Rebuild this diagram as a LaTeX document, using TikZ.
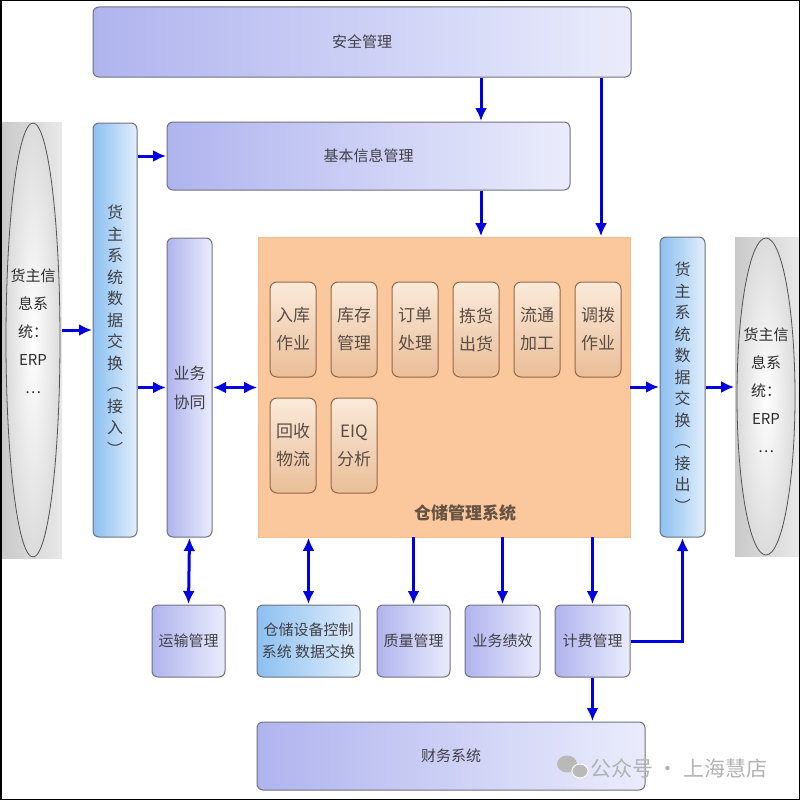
\documentclass[tikz,border=0pt]{standalone}
\usepackage{fontspec}
\setmainfont{Noto Sans CJK SC}
\usepackage{tikz}
\usetikzlibrary{arrows.meta, positioning, calc, shapes.geometric}

\definecolor{lav}{RGB}{176,180,238}
\definecolor{lavlt}{RGB}{234,236,252}
\definecolor{skyb}{RGB}{140,192,240}
\definecolor{skylt}{RGB}{226,238,252}
\definecolor{peach}{RGB}{250,200,156}
\definecolor{tandk}{RGB}{234,190,152}
\definecolor{tanlt}{RGB}{250,234,218}
\definecolor{tanbd}{RGB}{150,104,70}
\definecolor{arrblue}{RGB}{0,0,225}
\definecolor{txt}{RGB}{64,64,70}
\definecolor{bd}{RGB}{112,112,128}

\begin{document}
\begin{tikzpicture}[x=1pt,y=-1pt,>={Latex[length=13pt,width=12pt]},shorten >=0.5pt,semithick]
  \tikzstyle{box}=[draw=bd,line width=1pt,rounded corners=6pt,left color=lav,right color=lavlt,text=txt,align=center,inner sep=0pt,font=\fontsize{15}{20}\selectfont]
  \tikzstyle{bar}=[box,left color=skyb,right color=skylt,font=\fontsize{16}{21.5}\selectfont]
  \tikzstyle{sub}=[draw=tanbd,line width=1pt,rounded corners=7pt,top color=tanlt,bottom color=tandk,text=txt!80!brown,align=center,inner sep=0pt,minimum width=46pt,minimum height=95pt,font=\fontsize{17}{28}\selectfont]
  \tikzstyle{low}=[box,minimum height=72pt]
  \tikzstyle{host}=[rectangle,inner sep=0pt,left color=gray!42,right color=gray!18]
  \tikzstyle{erp}=[ellipse,draw=gray!65!black,line width=0.8pt,inner color=white,outer color=gray!28,text=gray!35!black,align=center,inner sep=0pt,font=\fontsize{15}{28}\selectfont]
  \tikzstyle{arr}=[->,draw=arrblue,line width=3pt]
  \tikzstyle{both}=[<->,draw=arrblue,line width=3pt,shorten <=0.5pt]

  \useasboundingbox (0,0) rectangle (800,800);

  % top rows
  \node[box,minimum width=538pt,minimum height=70pt] (anquan) at (362,42) {安全管理};
  \node[box,minimum width=403pt,minimum height=68pt] (jiben) at (368.5,156) {基本信息管理};

  % owner systems
  \node[host,minimum width=60pt,minimum height=436pt] (lhost) at (32,340) {};
  \node[erp,minimum width=54pt,minimum height=434pt] (lerp) at (33,340) {};
  \node[text=gray!35!black,align=center,font=\fontsize{15}{28}\selectfont] (ltext) at (33,331) {货主信\\息系\\统：\\ERP\\…};
  \node[host,minimum width=64pt,minimum height=319pt] (rhost) at (767,396.5) {};
  \node[erp,minimum width=58pt,minimum height=317pt] (rerp) at (766,396.5) {};
  \node[text=gray!35!black,align=center,font=\fontsize{15}{28}\selectfont] (rtext) at (766,390) {货主信\\息系\\统：\\ERP\\…};

  % exchange bars
  \node[bar,minimum width=44pt,minimum height=414pt] (jieru) at (115,330) {货\\主\\系\\统\\数\\据\\交\\换\\︵\\接\\入\\︶};
  \node[bar,minimum width=45pt,minimum height=300pt] (jiechu) at (682.5,387) {货\\主\\系\\统\\数\\据\\交\\换\\︵\\接\\出\\︶};
  \node[box,minimum width=45pt,minimum height=299pt,font=\fontsize{16}{29}\selectfont] (xietong) at (189.5,387.5) {业务\\协同};

  % warehouse system
  \node[draw=peach!85!brown,fill=peach,minimum width=372pt,minimum height=300pt,inner sep=0pt] (wms) at (444,387) {};
  \node[text=txt!70!brown,font=\fontsize{17}{20}\selectfont\bfseries] (wmstitle) at (465,513) {仓储管理系统};
  \node[sub] (ruku) at (293,329.5) {入库\\作业};
  \node[sub,right=14pt of ruku] (kucun) {库存\\管理};
  \node[sub,right=14pt of kucun] (dingdan) {订单\\处理};
  \node[sub,right=14pt of dingdan] (jianhuo) {拣货\\出货};
  \node[sub,right=14pt of jianhuo] (liutong) {流通\\加工};
  \node[sub,right=14pt of liutong] (diaobo) {调拨\\作业};
  \node[sub,below=20pt of ruku] (huishou) {回收\\物流};
  \node[sub,below=20pt of kucun] (eiq) {EIQ\\分析};

  % bottom row
  \node[low,minimum width=73pt] (yunshu) at (188.5,641) {运输管理};
  \node[low,minimum width=103pt,left color=skyb,right color=skylt,font=\fontsize{15}{22}\selectfont] (shebei) at (308.5,641) {仓储设备控制\\系统 数据交换};
  \node[low,minimum width=73pt] (zhiliang) at (413.5,641) {质量管理};
  \node[low,minimum width=75pt] (jixiao) at (502.5,641) {业务绩效};
  \node[low,minimum width=75pt] (jifei) at (592.5,641) {计费管理};
  \node[box,minimum width=388pt,minimum height=68pt] (caiwu) at (451,756) {财务系统};

  % connectors
  \coordinate (c1) at (481,0);
  \coordinate (c2) at (601,0);
  \draw[arr] (anquan.south -| c1) -- (jiben.north -| c1);
  \draw[arr] (anquan.south -| c2) -- (wms.north -| c2);
  \draw[arr] (jiben.south -| c1) -- (wms.north -| c1);
  \draw[arr] (lhost.east |- jieru.center) -- (jieru.west);
  \draw[arr] (jieru.east |- jiben.center) -- (jiben.west);
  \draw[arr] (jieru.east |- xietong.center) -- (xietong.west);
  \draw[both] (xietong.east) -- (wms.west |- xietong.east);
  \draw[arr] (wms.east) -- (jiechu.west);
  \draw[arr] (jiechu.east) -- (rhost.west |- jiechu.east);
  \draw[both] (xietong.south) -- (yunshu.north);
  \draw[both] (wms.south -| shebei.north) -- (shebei.north);
  \draw[arr] (wms.south -| zhiliang.north) -- (zhiliang.north);
  \draw[arr] (wms.south -| jixiao.north) -- (jixiao.north);
  \draw[arr] (wms.south -| jifei.north) -- (jifei.north);
  \draw[arr] (jifei.east) -- (jiechu.center |- jifei.east) -- (jiechu.south);
  \draw[arr] (jifei.south) -- (caiwu.north -| jifei.south);

  % watermark
  \fill[gray!55] (567,764) ellipse (10pt and 8.5pt);
  \fill[gray!55,draw=white,line width=1pt] (580,771) ellipse (8pt and 7pt);
  \node[anchor=west,text=gray!60,font=\fontsize{21}{24}\selectfont,inner sep=0pt] (mark) at (590,768) {公众号 · 上海慧店};

  \draw[line width=3pt] (0,0) rectangle (800,800);
\end{tikzpicture}
\end{document}
